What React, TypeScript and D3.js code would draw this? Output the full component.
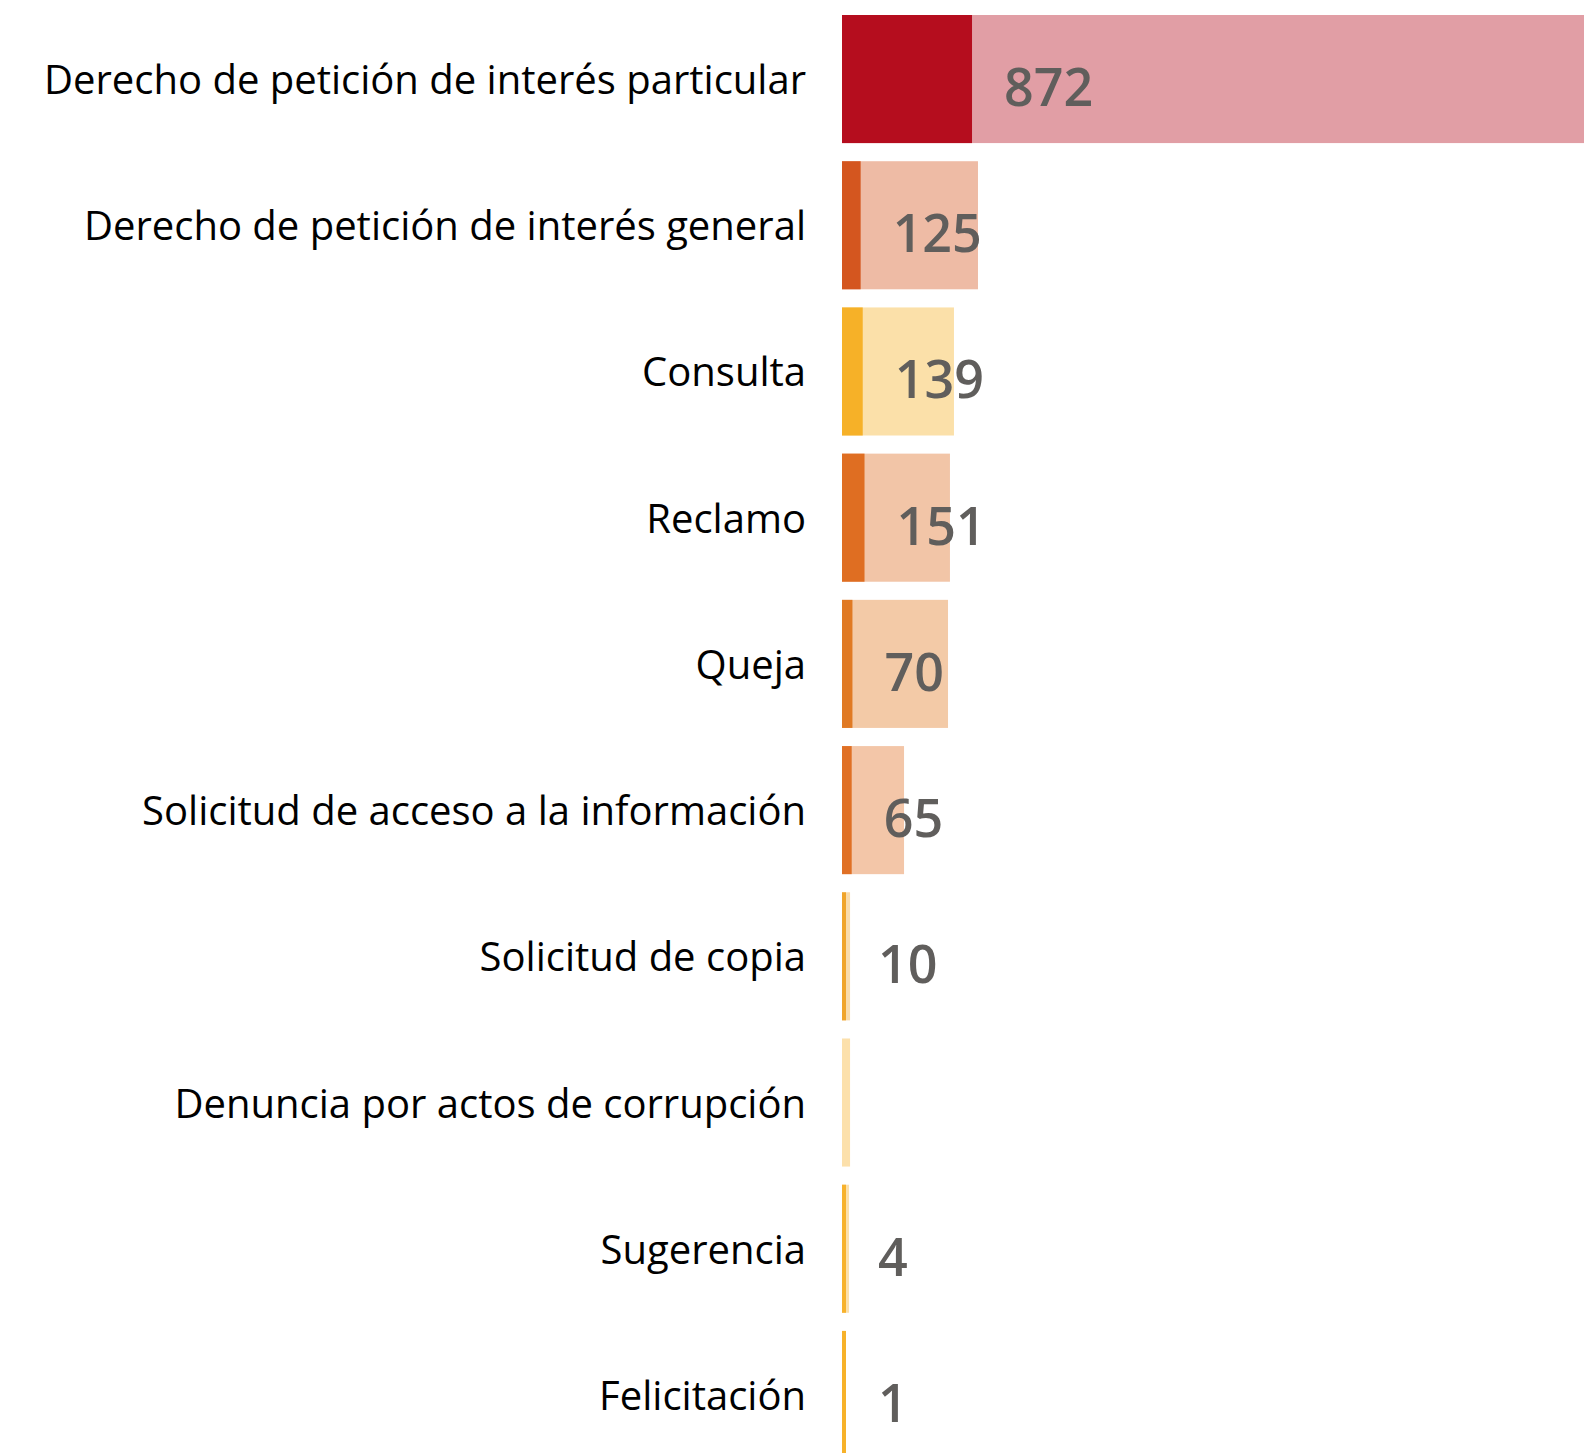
import React, { useEffect } from "react";
import * as d3 from "d3";

const categories = [
  "Derecho de petición de interés particular",
  "Derecho de petición de interés general",
  "Consulta",
  "Reclamo",
  "Queja",
  "Solicitud de acceso a la información",
  "Solicitud de copia",
  "Denuncia por actos de corrupción",
  "Sugerencia",
  "Felicitación",
];

// shown value (dark bar + label)
const counts = [872, 125, 139, 151, 70, 65, 10, 0, 4, 1];
// background bar
const totals = [5000, 912, 751, 724, 711, 416, 54, 54, 47, 20];

const barColors = [
  "#b50d1e",
  "#d4561f",
  "#f6b128",
  "#df6e22",
  "#e07a24",
  "#e07025",
  "#f0a42a",
  "#f7b22d",
  "#f7b22d",
  "#f7b22a",
];

const W = 1584,
  H = 1453;

export default function App() {
  useEffect(() => {
    document.body.style.margin = "0";
    document.body.style.overflow = "hidden";
  }, []);

  const y = d3
    .scaleBand<string>()
    .domain(categories)
    .range([15, 1459])
    .paddingInner(0.124)
    .paddingOuter(0);

  const x = d3.scaleLinear().domain([0, 5000]).range([842, 842 + 745.5]);
  const x0 = x(0);
  const darkW = (v: number) => (v > 0 ? Math.max(x(v) - x0, 4) : 0);

  return (
    <svg width={W} height={H} style={{ display: "block" }}>
      <rect width={W} height={H} fill="#fff" />
      {categories.map((c, i) => {
        const top = y(c)!;
        const bw = y.bandwidth();
        const mid = top + bw / 2;
        const dw = darkW(counts[i]);
        return (
          <g key={c}>
            <rect
              x={x0}
              y={top}
              width={Math.max(x(totals[i]) - x0, 0)}
              height={bw}
              fill={barColors[i]}
              fillOpacity={0.4}
            />
            {dw > 0 && (
              <rect x={x0} y={top} width={dw} height={bw} fill={barColors[i]} />
            )}
            <text
              x={806}
              y={mid + 15}
              textAnchor="end"
              fontFamily="'Open Sans', sans-serif"
              fontSize={40}
              fill="#000"
            >
              {c}
            </text>
            {counts[i] > 0 && (
              <text
                x={x0 + dw + 32}
                y={mid + 27}
                fontFamily="'Open Sans', sans-serif"
                fontWeight={600}
                fontSize={52}
                fill="#605e5c"
              >
                {counts[i]}
              </text>
            )}
          </g>
        );
      })}
    </svg>
  );
}
